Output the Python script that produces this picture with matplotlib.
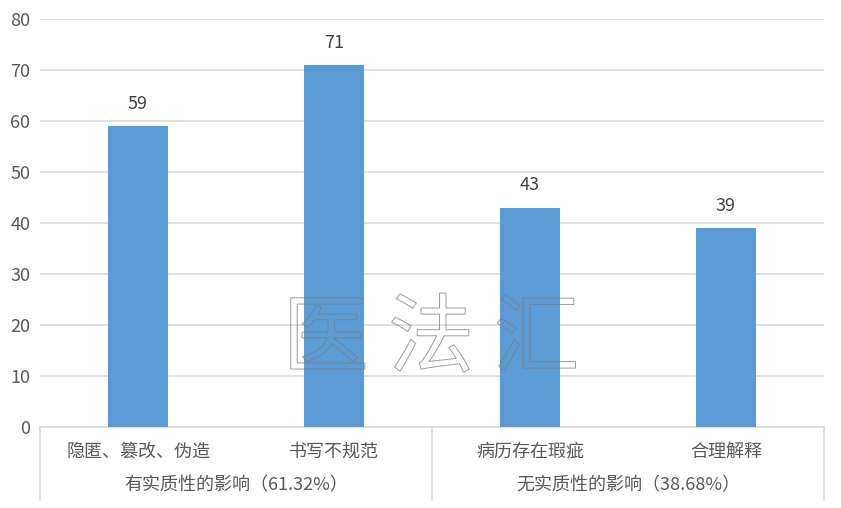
import matplotlib.pyplot as plt
import matplotlib.transforms as mtransforms
from matplotlib.textpath import TextPath
from matplotlib.patches import PathPatch
from matplotlib.font_manager import FontProperties

plt.rcParams['font.family'] = ['Noto Sans CJK SC', 'DejaVu Sans']

categories = ["隐匿、篡改、伪造", "书写不规范", "病历存在瑕疵", "合理解释"]
values = [59, 71, 43, 39]
groups = ["有实质性的影响（61.32%）", "无实质性的影响（38.68%）"]
group_sizes = [2, 2]
watermark = "医 法 汇"

BAR = "#5B9BD5"
TXT = "#595959"
GRID = "#D9D9D9"
FS = 13

fig = plt.figure(figsize=(8.41, 5.08), dpi=100)
ax = fig.add_axes([40 / 841, 81 / 508, 784 / 841, 408 / 508])

x = list(range(len(categories)))
bars = ax.bar(x, values, width=0.31, color=BAR, zorder=3)
for b, v in zip(bars, values):
    ax.text(b.get_x() + b.get_width() / 2, v + 2.6, str(v), ha="center", va="bottom",
            fontsize=FS, color="#404040")

ax.set_xlim(-0.5, len(categories) - 0.5)
ax.set_ylim(0, 80)
ax.set_yticks(range(0, 81, 10))
ax.yaxis.grid(True, color=GRID, linewidth=1.2, zorder=0)
ax.tick_params(axis="y", length=0, labelsize=FS, labelcolor=TXT, pad=7)
ax.set_xticks([])
for s in ["top", "right", "left"]:
    ax.spines[s].set_visible(False)
ax.spines["bottom"].set_color(GRID)
ax.spines["bottom"].set_linewidth(1.2)

trans = mtransforms.blended_transform_factory(ax.transData, ax.transAxes)
for i, c in enumerate(categories):
    ax.text(i, -0.06, c, transform=trans, ha="center", va="center",
            fontsize=FS, color=TXT)

# group separators and group labels
start = 0
edges = [-0.5]
for g, n in zip(groups, group_sizes):
    mid = start + (n - 1) / 2
    ax.text(mid, -0.143, g, transform=trans, ha="center", va="center",
            fontsize=FS, color=TXT)
    start += n
    edges.append(start - 0.5)
for e in edges:
    ax.plot([e, e], [0, -0.179], transform=trans, color=GRID, linewidth=1.2,
            clip_on=False)

# outline-only watermark
tp = TextPath((0, 0), watermark, size=62, prop=FontProperties(family="Noto Sans CJK SC"))
ext = tp.get_extents()
cx, cy = (ext.x0 + ext.x1) / 2, (ext.y0 + ext.y1) / 2
wm_tr = (mtransforms.Affine2D().translate(-cx, -cy).scale(fig.dpi / 72)
         .translate(0.515 * fig.bbox.width, 0.345 * fig.bbox.height))
fig.add_artist(PathPatch(tp, transform=wm_tr, facecolor="none",
                         edgecolor="#7a7a7a", linewidth=0.7, alpha=0.75, zorder=5))

fig.savefig("out.png", dpi=100)
